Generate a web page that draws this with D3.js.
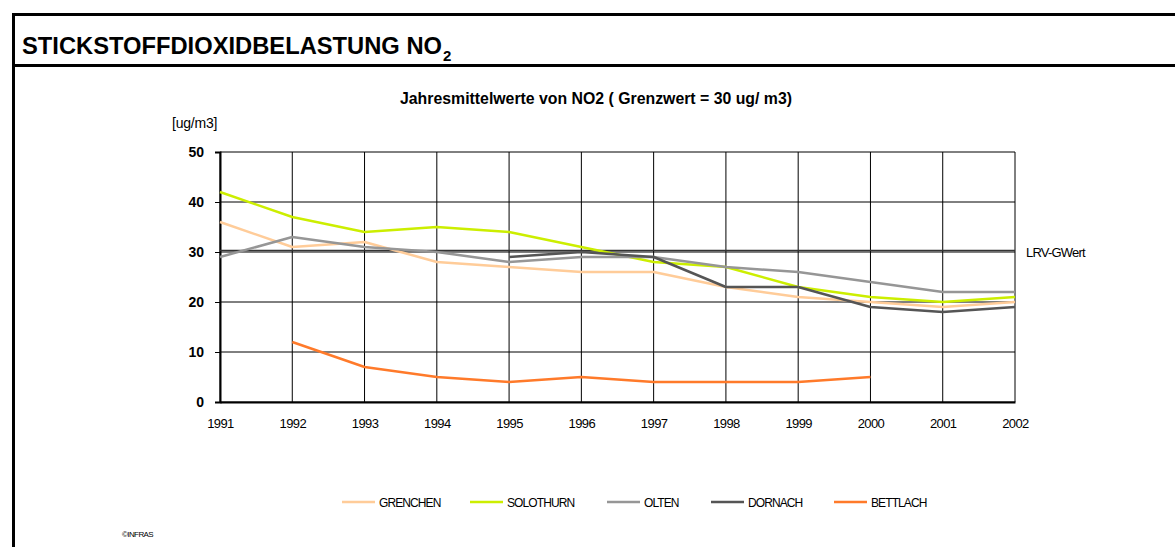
<!DOCTYPE html>
<html lang="de">
<head>
<meta charset="UTF-8">
<title>Stickstoffdioxidbelastung NO2</title>
<script src="https://cdn.jsdelivr.net/npm/d3@7"></script>
<style>
  body { margin: 0; background: #fff; }
  svg { display: block; font-family: "Liberation Sans", Arial, sans-serif; }
</style>
</head>
<body>
<script>
// data
const years = [1991, 1992, 1993, 1994, 1995, 1996, 1997, 1998, 1999, 2000, 2001, 2002];
const grenchen  = [36, 31, 32, 28, 27, 26, 26, 23, 21, 20, 19, 20];
const solothurn = [42, 37, 34, 35, 34, 31, 28, 27, 23, 21, 20, 21];
const olten     = [29, 33, 31, 30, 28, 29, 29, 27, 26, 24, 22, 22];
const dornach   = [null, null, null, null, 29, 30, 29, 23, 23, 19, 18, 19];
const bettlach  = [null, 12, 7, 5, 4, 5, 4, 4, 4, 5, null, null];
const seriesNames = ["GRENCHEN", "SOLOTHURN", "OLTEN", "DORNACH", "BETTLACH"];
const seriesColors = ["#ffcc99", "#ccee00", "#969696", "#555555", "#ff7a2a"];
const yTicks = [0, 10, 20, 30, 40, 50];
const limitValue = 30;

const seriesValues = [grenchen, solothurn, olten, dornach, bettlach];

const width = 1175, height = 547;
const svg = d3.select("body").append("svg").attr("width", width).attr("height", height);

// frame
svg.append("line").attr("x1", 12).attr("x2", width).attr("y1", 14.5).attr("y2", 14.5)
   .attr("stroke", "#000").attr("stroke-width", 3);
svg.append("line").attr("x1", 12).attr("x2", width).attr("y1", 65.5).attr("y2", 65.5)
   .attr("stroke", "#000").attr("stroke-width", 3);
svg.append("line").attr("x1", 13.5).attr("x2", 13.5).attr("y1", 13).attr("y2", height)
   .attr("stroke", "#000").attr("stroke-width", 3);

// header
svg.append("text").attr("x", 22).attr("y", 54)
   .attr("font-size", 23).attr("font-weight", "bold")
   .attr("textLength", 420).attr("lengthAdjust", "spacingAndGlyphs")
   .text("STICKSTOFFDIOXIDBELASTUNG NO");
svg.append("text").attr("x", 443).attr("y", 61)
   .attr("font-size", 15).attr("font-weight", "bold").text("2");

// chart title
svg.append("text").attr("x", 400).attr("y", 104)
   .attr("font-size", 16).attr("font-weight", "bold")
   .attr("textLength", 392).attr("lengthAdjust", "spacingAndGlyphs")
   .text("Jahresmittelwerte von NO2 ( Grenzwert = 30 ug/ m3)");

svg.append("text").attr("x", 172).attr("y", 128).attr("font-size", 14)
   .attr("letter-spacing", -0.2).text("[ug/m3]");

const x = d3.scalePoint().domain(years).range([220, 1015]);
const y = d3.scaleLinear().domain([0, 50]).range([402, 152]);

// grid
const grid = svg.append("g");
grid.selectAll(".h").data(yTicks).join("line")
   .attr("x1", 220).attr("x2", 1015)
   .attr("y1", d => y(d)).attr("y2", d => y(d))
   .attr("stroke", "#000").attr("stroke-width", 1);
grid.selectAll(".v").data(years).join("line")
   .attr("x1", d => x(d)).attr("x2", d => x(d))
   .attr("y1", y(50)).attr("y2", y(0))
   .attr("stroke", "#000").attr("stroke-width", 1);

// y axis
const yAxis = svg.append("g").attr("transform", "translate(220,0)")
   .call(d3.axisLeft(y).tickValues(yTicks).tickSize(5).tickPadding(11));
yAxis.select(".domain").attr("stroke", "#000").attr("stroke-width", 2);
yAxis.selectAll("text").attr("font-size", 14).attr("font-weight", "bold")
   .attr("font-family", "Liberation Sans, Arial, sans-serif").attr("fill", "#000");

// x axis
const xAxis = svg.append("g").attr("transform", `translate(0,${y(0)})`)
   .call(d3.axisBottom(x).tickSize(0).tickPadding(17).tickFormat(d3.format("d")));
xAxis.select(".domain").attr("stroke", "#000").attr("stroke-width", 2);
xAxis.selectAll("text").attr("font-size", 13).attr("letter-spacing", -0.6)
   .attr("font-family", "Liberation Sans, Arial, sans-serif").attr("fill", "#000");

// limit value line
svg.append("line").attr("x1", 220).attr("x2", 1015)
   .attr("y1", y(limitValue) - 1.5).attr("y2", y(limitValue) - 1.5)
   .attr("stroke", "#333").attr("stroke-width", 1.5);
svg.append("text").attr("x", 1026).attr("y", y(limitValue) + 5)
   .attr("font-size", 13).attr("letter-spacing", -0.8).text("LRV-GWert");

// series
const line = d3.line()
   .defined(d => d.v !== null)
   .x(d => x(d.year)).y(d => y(d.v));

seriesValues.forEach((vals, i) => {
  svg.append("path")
     .datum(years.map((yr, j) => ({ year: yr, v: vals[j] })))
     .attr("d", line)
     .attr("fill", "none")
     .attr("stroke", seriesColors[i])
     .attr("stroke-width", 2.5)
     .attr("stroke-linejoin", "round");
});

// legend
const legendX = [342, 470, 607, 711, 834];
const legend = svg.append("g").selectAll("g").data(seriesNames).join("g")
   .attr("transform", (d, i) => `translate(${legendX[i]},502)`);
legend.append("line").attr("x1", 0).attr("x2", 33).attr("y1", 0).attr("y2", 0)
   .attr("stroke", (d, i) => seriesColors[i]).attr("stroke-width", 2.5);
legend.append("text").attr("x", 37).attr("y", 4.5).attr("font-size", 12)
   .attr("letter-spacing", -0.9).text(d => d);

svg.append("text").attr("x", 122).attr("y", 537).attr("font-size", 8)
   .attr("letter-spacing", -0.6).text("©INFRAS");
</script>
</body>
</html>
